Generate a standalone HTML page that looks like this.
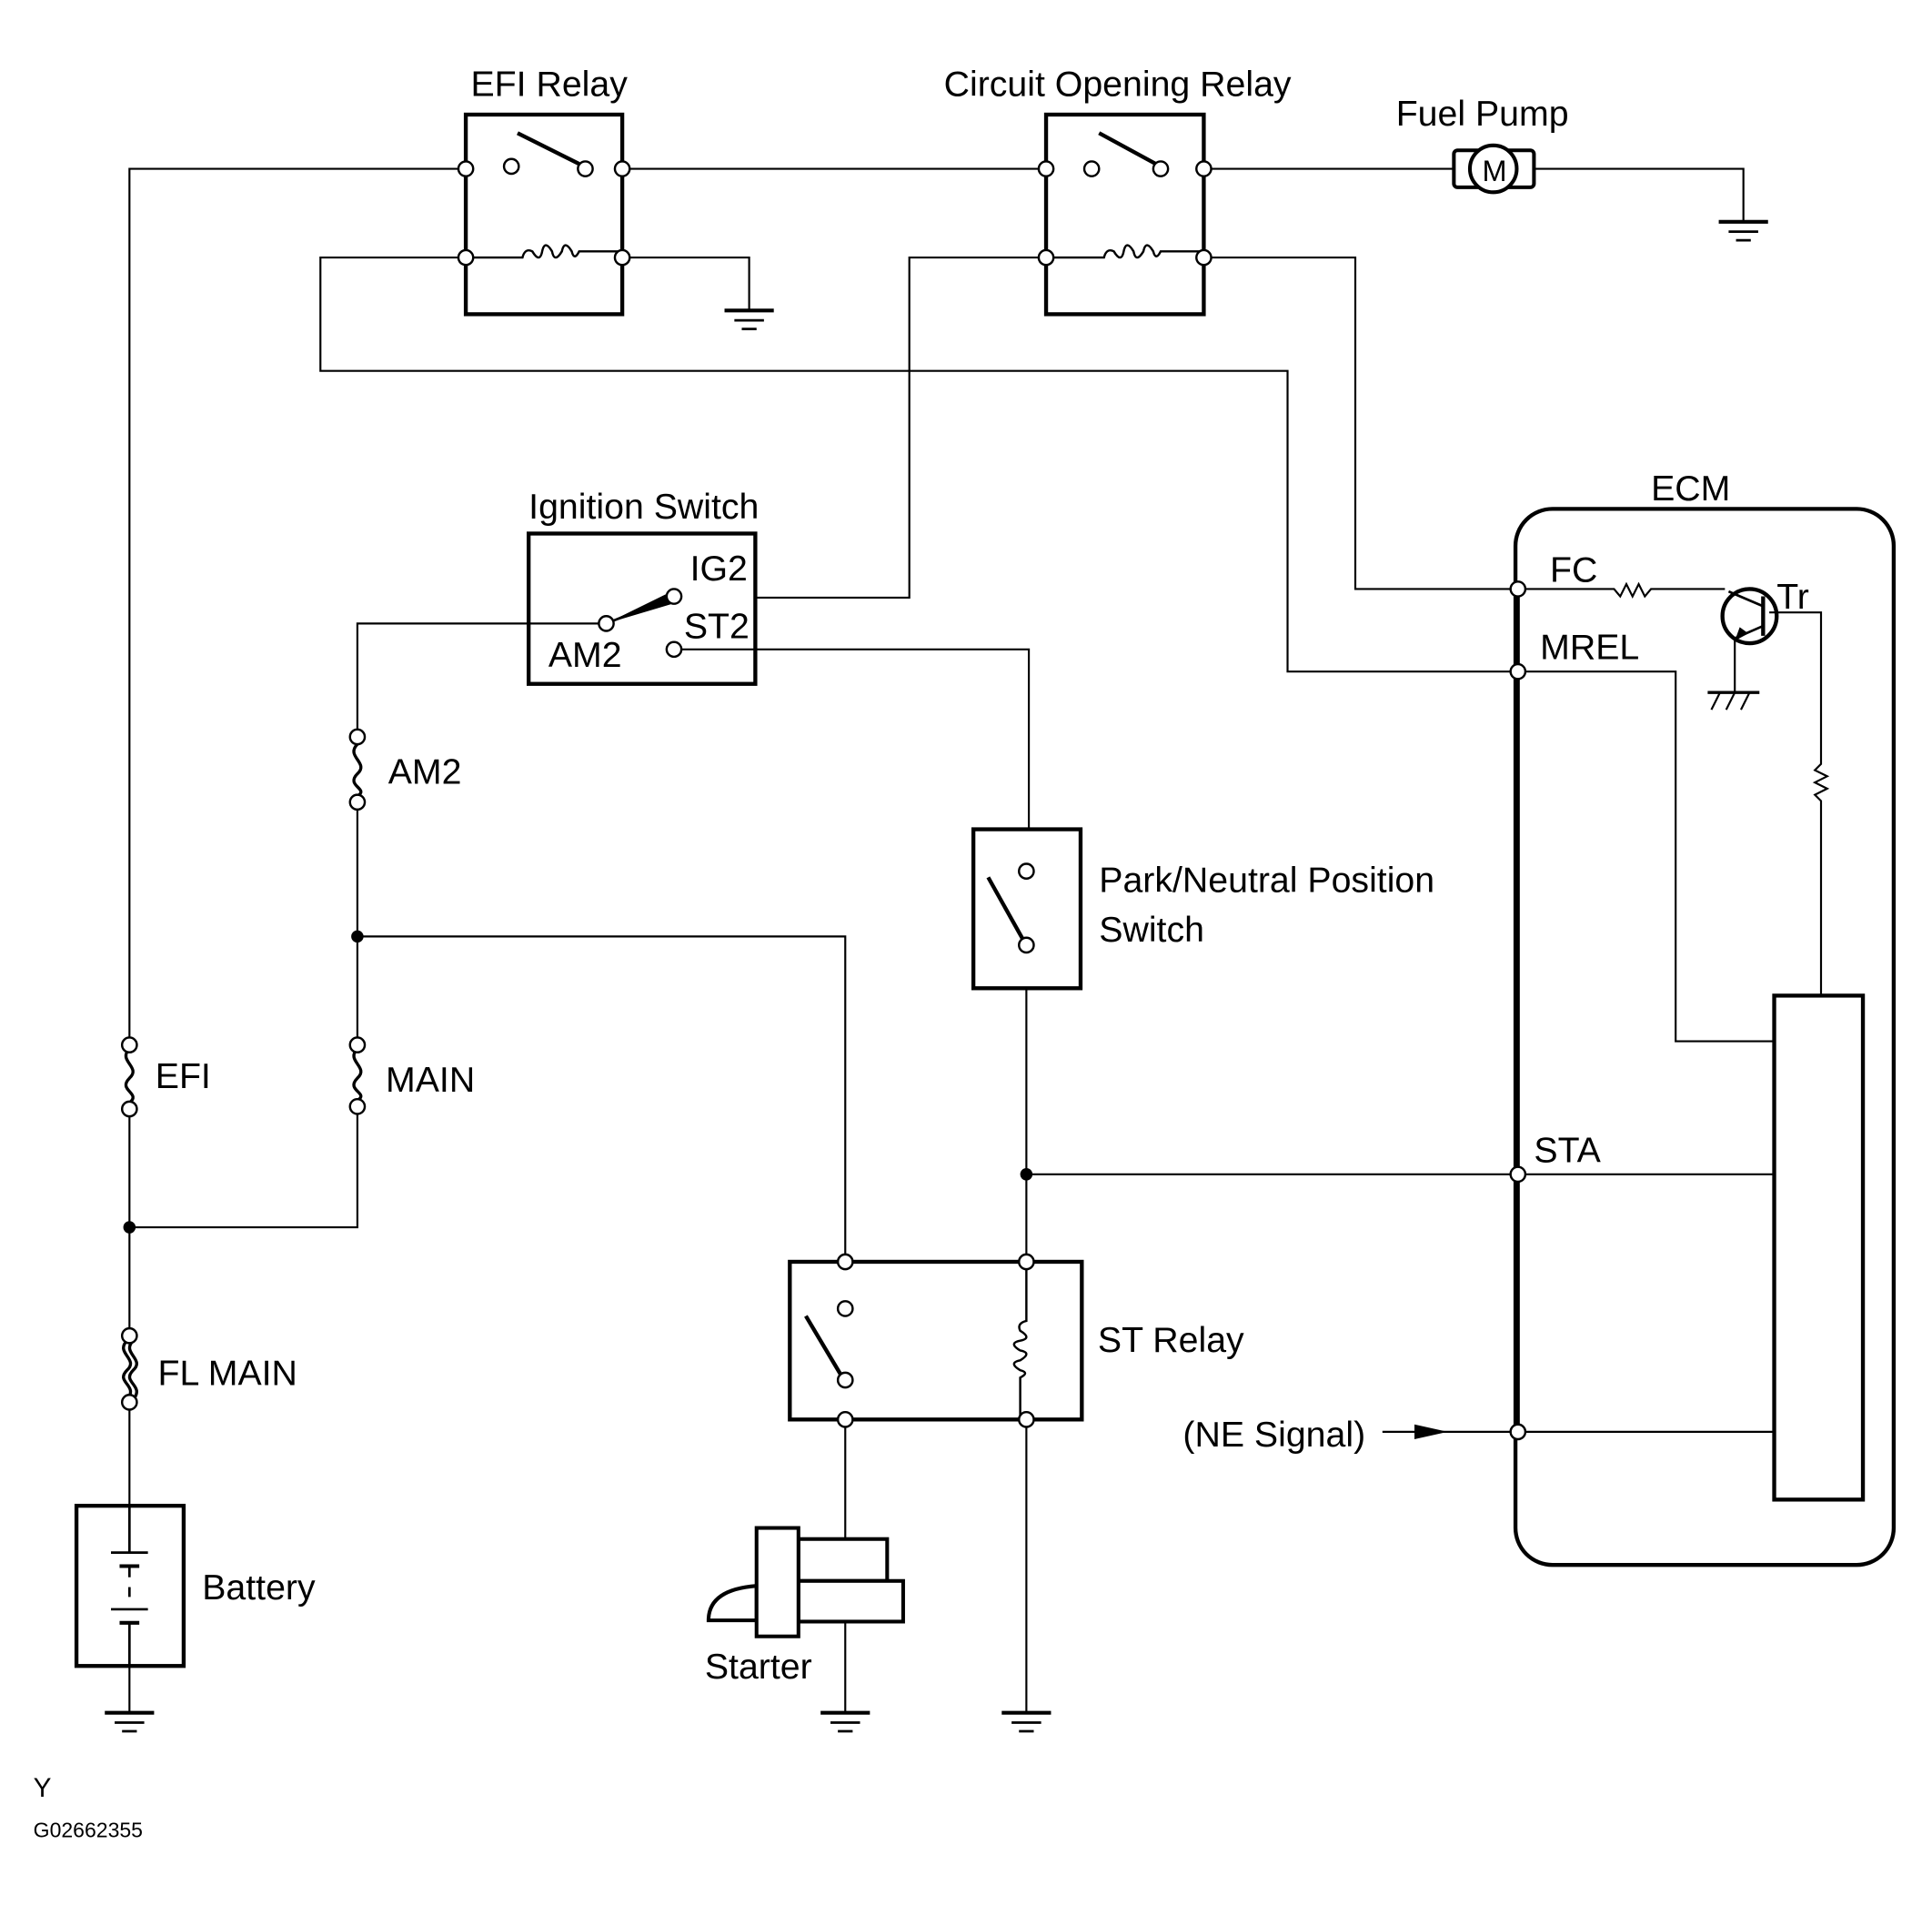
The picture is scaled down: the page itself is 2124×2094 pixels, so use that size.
<!DOCTYPE html>
<html><head><meta charset="utf-8"><style>
html,body{margin:0;padding:0;background:#fff}
svg{display:block}
text{font-family:"Liberation Sans",sans-serif;fill:#000}
</style></head><body>
<svg width="2124" height="2094" viewBox="0 0 1568 1546" xmlns="http://www.w3.org/2000/svg">
<defs>
<g id="gnd"><line x1="-20" y1="0" x2="20" y2="0" stroke="#000" stroke-width="3"/><line x1="-12" y1="8" x2="12" y2="8" stroke="#000" stroke-width="2"/><line x1="-6" y1="15" x2="6" y2="15" stroke="#000" stroke-width="2"/></g>
</defs>
<g fill="none" stroke="#000" stroke-width="1.6">
<polyline points="105,845 105,137 378,137"/>
<line x1="505" y1="137" x2="849" y2="137"/>
<polyline points="977,137 1180,137"/>
<polyline points="1245,137 1415,137 1415,180"/>
<polyline points="505,209 608,209 608,252"/>
<polyline points="378,209 260,209 260,301 1045,301 1045,545 1232,545"/>
<polyline points="849,209 738,209 738,485 612,485"/>
<polyline points="977,209 1100,209 1100,478 1232,478"/>
<polyline points="492,506 290,506 290,598"/>
<polyline points="290,651 290,845"/>
<polyline points="290,898 290,996 105,996"/>
<polyline points="290,760 686,760 686,1024"/>
<polyline points="552,527 835,527 835,673"/>
<line x1="833" y1="802" x2="833" y2="1024"/>
<line x1="833" y1="953" x2="1232" y2="953"/>
<line x1="686" y1="1152" x2="686" y2="1250"/>
<line x1="686" y1="1316" x2="686" y2="1390"/>
<line x1="833" y1="1152" x2="833" y2="1390"/>
<line x1="105" y1="900" x2="105" y2="1080"/>
<line x1="105" y1="1140" x2="105" y2="1222"/>
<line x1="105" y1="1352" x2="105" y2="1390"/>
<line x1="1232" y1="478" x2="1232" y2="1162" stroke-width="3"/>
<polyline points="1232,478 1310,478 1315,484 1320,474 1325,484 1330,474 1335,484 1340,478 1400,478"/>
<polyline points="1436,497 1478,497 1478,620 1473,625 1483,630 1473,635 1483,640 1473,645 1478,650 1478,808"/>
<polyline points="1408,518 1408,562"/>
<polyline points="1232,545 1360,545 1360,845 1440,845"/>
<line x1="1232" y1="953" x2="1440" y2="953"/>
<line x1="1122" y1="1162" x2="1440" y2="1162"/>
</g>
<g fill="none" stroke="#000" stroke-width="3.2">
<rect x="378" y="93" width="127" height="162"/>
<rect x="849" y="93" width="128" height="162"/>
<rect x="429" y="433" width="184" height="122"/>
<rect x="790" y="673" width="87" height="129"/>
<rect x="641" y="1024" width="237" height="128"/>
<rect x="62" y="1222" width="87" height="130"/>
<rect x="1230" y="413" width="307" height="857" rx="30"/>
<rect x="1440" y="808" width="72" height="409"/>
<line x1="420" y1="108" x2="470" y2="133"/>
<line x1="892" y1="108" x2="938" y2="133"/>
<line x1="802" y1="712" x2="830" y2="762"/>
<line x1="654" y1="1068" x2="682" y2="1115"/>
<rect x="1180" y="122" width="65" height="30" rx="3" stroke-width="3"/>
<circle cx="1212" cy="137" r="19" fill="#fff" stroke-width="3"/>
<circle cx="1420" cy="500" r="22"/>
<line x1="1431" y1="484" x2="1431" y2="516"/>
</g>
<polygon points="492,506 545,480 549,489" fill="#000"/>
<line x1="492" y1="506" x2="547" y2="484" stroke="#000" stroke-width="2"/>
<line x1="1403" y1="480" x2="1431" y2="492" stroke="#000" stroke-width="2"/>
<line x1="1431" y1="508" x2="1408" y2="518" stroke="#000" stroke-width="2"/>
<polygon points="1408,520 1412,509 1419,514" fill="#000"/>
<line x1="1386" y1="562" x2="1428" y2="562" stroke="#000" stroke-width="2.5"/>
<g stroke="#000" stroke-width="1.6"><line x1="1396" y1="562" x2="1389" y2="576"/><line x1="1408" y1="562" x2="1401" y2="576"/><line x1="1420" y1="562" x2="1413" y2="576"/></g>
<g fill="none" stroke="#000" stroke-width="1.8">
<path d="M378,209 H424 q2,-8 8,-5 q6,10 8,0 q2,-10 8,0 q2,10 8,0 q2,-10 8,0 q2,8 6,0 H505"/>
<path d="M849,209 H896 q2,-8 8,-5 q6,10 8,0 q2,-10 8,0 q2,10 8,0 q2,-10 8,0 q2,8 6,0 H977"/>
<path d="M833,1024 V1072 q-8,2 -5,8 q10,6 0,8 q-10,2 0,8 q10,2 0,8 q-10,2 0,8 q8,2 0,6 V1152"/>
</g>
<g fill="none" stroke="#000" stroke-width="2.5">
<path d="M290,604 c-10,10 10,15 0,24 c-10,10 10,12 0,18"/>
<path d="M290,851 c-10,10 10,15 0,24 c-10,10 10,12 0,18"/>
<path d="M105,851 c-10,10 10,15 0,24 c-10,10 10,12 0,20"/>
<path d="M103,1088 c-10,10 10,15 0,24 c-10,10 10,12 0,24"/>
<path d="M108,1088 c-10,10 10,15 0,24 c-10,10 10,12 0,24"/>
</g>
<g stroke="#000" stroke-width="2">
<line x1="105" y1="1222" x2="105" y2="1260"/><line x1="90" y1="1260" x2="120" y2="1260"/><line x1="97" y1="1271" x2="113" y2="1271" stroke-width="3"/>
<line x1="105" y1="1271" x2="105" y2="1280"/><line x1="105" y1="1288" x2="105" y2="1296"/>
<line x1="90" y1="1306" x2="120" y2="1306"/><line x1="97" y1="1317" x2="113" y2="1317" stroke-width="3"/><line x1="105" y1="1317" x2="105" y2="1352"/>
</g>
<g fill="#fff" stroke="#000" stroke-width="3">
<rect x="648" y="1249" width="72" height="34"/>
<rect x="648" y="1283" width="85" height="33"/>
<path d="M575,1315 q0,-25 39,-28 V1315 Z"/>
<rect x="614" y="1240" width="34" height="88"/>
</g>
<use href="#gnd" x="608" y="252"/><use href="#gnd" x="1415" y="180"/>
<use href="#gnd" x="105" y="1390"/><use href="#gnd" x="686" y="1390"/><use href="#gnd" x="833" y="1390"/>
<g fill="#fff" stroke="#000" stroke-width="1.8">
<circle cx="378" cy="137" r="6"/><circle cx="415" cy="135" r="6"/><circle cx="475" cy="137" r="6"/><circle cx="505" cy="137" r="6"/>
<circle cx="378" cy="209" r="6"/><circle cx="505" cy="209" r="6"/>
<circle cx="849" cy="137" r="6"/><circle cx="886" cy="137" r="6"/><circle cx="942" cy="137" r="6"/><circle cx="977" cy="137" r="6"/>
<circle cx="849" cy="209" r="6"/><circle cx="977" cy="209" r="6"/>
<circle cx="492" cy="506" r="6"/><circle cx="547" cy="484" r="6"/><circle cx="547" cy="527" r="6"/>
<circle cx="290" cy="598" r="6"/><circle cx="290" cy="651" r="6"/><circle cx="290" cy="848" r="6"/><circle cx="290" cy="898" r="6"/>
<circle cx="105" cy="848" r="6"/><circle cx="105" cy="900" r="6"/><circle cx="105" cy="1084" r="6"/><circle cx="105" cy="1138" r="6"/>
<circle cx="833" cy="707" r="6"/><circle cx="833" cy="767" r="6"/>
<circle cx="686" cy="1024" r="6"/><circle cx="686" cy="1062" r="6"/><circle cx="686" cy="1120" r="6"/><circle cx="686" cy="1152" r="6"/>
<circle cx="833" cy="1024" r="6"/><circle cx="833" cy="1152" r="6"/>
<circle cx="1232" cy="478" r="6"/><circle cx="1232" cy="545" r="6"/><circle cx="1232" cy="953" r="6"/><circle cx="1232" cy="1162" r="6"/>
</g>
<g fill="#000"><circle cx="290" cy="760" r="5"/><circle cx="105" cy="996" r="5"/><circle cx="833" cy="953" r="5"/></g>
<polygon points="1148,1156 1175,1162 1148,1168" fill="#000"/>
<g font-size="29">
<text x="382" y="78">EFI Relay</text>
<text x="766" y="78">Circuit Opening Relay</text>
<text x="1133" y="102">Fuel Pump</text>
<text x="1203" y="147" font-size="24">M</text>
<text x="1340" y="406">ECM</text>
<text x="429" y="421">Ignition Switch</text>
<text x="560" y="471">IG2</text>
<text x="555" y="518">ST2</text>
<text x="445" y="541">AM2</text>
<text x="1258" y="472">FC</text>
<text x="1442" y="494">Tr</text>
<text x="1250" y="535">MREL</text>
<text x="315" y="636">AM2</text>
<text x="892" y="724">Park/Neutral Position</text>
<text x="892" y="764">Switch</text>
<text x="126" y="883">EFI</text>
<text x="313" y="886">MAIN</text>
<text x="1245" y="943">STA</text>
<text x="891" y="1097">ST Relay</text>
<text x="128" y="1124">FL MAIN</text>
<text x="960" y="1174">(NE Signal)</text>
<text x="164" y="1298">Battery</text>
<text x="572" y="1362">Starter</text>
<text x="27" y="1458" font-size="22">Y</text>
<text x="27" y="1491" font-size="17">G02662355</text>
</g>
</svg>
</body></html>
